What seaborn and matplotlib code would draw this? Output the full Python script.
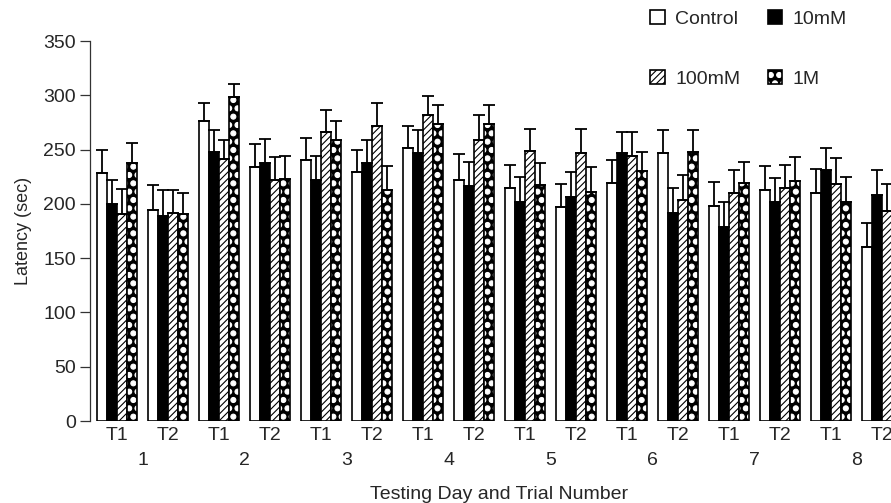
import numpy as np
import pandas as pd
import matplotlib
matplotlib.use("Agg")
import matplotlib.pyplot as plt
import matplotlib.hatch as mhatch
import seaborn as sns
from matplotlib.patches import Patch

# ---------------- data ----------------
series = ["Control", "10mM", "100mM", "1M"]
days = ["1", "2", "3", "4", "5", "6", "7", "8"]
trials = ["T1", "T2"] * 8
conditions = [f"{d}-{t}" for d in days for t in ["T1", "T2"]]

control_mean = [228, 194, 276, 234, 240, 229, 251, 222, 215, 197, 219, 247, 198, 213, 210, 160]
control_sem = [22, 23, 17, 21, 21, 21, 21, 24, 21, 21, 21, 21, 22, 22, 22, 22]
mm10_mean = [200, 189, 248, 238, 222, 238, 247, 216, 202, 206, 247, 192, 179, 202, 231, 208]
mm10_sem = [22, 24, 20, 22, 22, 21, 21, 23, 23, 23, 19, 23, 23, 22, 20, 23]
mm100_mean = [191, 192, 241, 222, 266, 272, 282, 259, 249, 247, 244, 204, 210, 215, 218, 193]
mm100_sem = [23, 21, 18, 21, 20, 21, 17, 23, 20, 22, 22, 23, 21, 21, 24, 25]
m1_mean = [238, 191, 298, 223, 259, 213, 274, 274, 217, 211, 230, 248, 219, 221, 202, 195]
m1_sem = [18, 19, 12, 21, 17, 22, 17, 17, 21, 23, 18, 20, 20, 22, 23, 20]

means = {"Control": control_mean, "10mM": mm10_mean, "100mM": mm100_mean, "1M": m1_mean}
sems = {"Control": control_sem, "10mM": mm10_sem, "100mM": mm100_sem, "1M": m1_sem}

df = pd.DataFrame(
    [(c, s, means[s][i]) for s in series for i, c in enumerate(conditions)],
    columns=["condition", "group", "latency"],
)

# ---------------- style ----------------
sns.set_style("ticks")
plt.rcParams["font.family"] = ["Liberation Sans", "DejaVu Sans"]
plt.rcParams["hatch.linewidth"] = 0.8
mhatch.SmallFilledCircles.size = 0.3   # bigger white dots for the 1M pattern

W, H = 891, 503
fig = plt.figure(figsize=(W / 100, H / 100), dpi=100)
ax = fig.add_axes([90 / W, (H - 421) / H, (908 - 90) / W, (421 - 41) / H])

face = {"Control": "white", "10mM": "black", "100mM": "white", "1M": "black"}
hatches = {"Control": None, "10mM": None, "100mM": "/////", "1M": ".."}

sns.barplot(
    data=df, x="condition", y="latency", hue="group",
    order=conditions, hue_order=series, palette=face,
    errorbar=None, width=0.8, gap=0, edgecolor="black",
    linewidth=1.2, saturation=1, legend=False, ax=ax,
)

for s, cont in zip(series, ax.containers):
    xc, hts = [], []
    for p in cont:
        p.set_edgecolor("black")
        p.set_linewidth(1.2)
        if hatches[s]:
            p.set_hatch(hatches[s])
        if s == "1M":
            p._hatch_color = (1, 1, 1, 1)
        xc.append(p.get_x() + p.get_width() / 2)
        hts.append(p.get_height())
    ax.errorbar(xc, hts, yerr=[np.zeros(len(hts)), sems[s]], fmt="none",
                ecolor="black", elinewidth=1.3, capsize=4.3, capthick=1.3, zorder=5)

ax.set_ylim(0, 350)
ax.set_xlim(-0.53, 15.51)
ax.set_yticks(range(0, 351, 50))
ax.tick_params(axis="y", length=7, width=0.9, pad=3, labelsize=14, color="#333333")
ax.set_xticks(range(16), trials)
ax.tick_params(axis="x", length=0, pad=4, labelsize=14)
for sp in ["top", "right", "bottom"]:
    ax.spines[sp].set_visible(False)
ax.spines["left"].set_linewidth(0.9)
ax.spines["left"].set_color("#333333")
ax.set_xlabel("")
ax.set_ylabel("Latency (sec)", fontsize=13, labelpad=8)

sec = ax.secondary_xaxis("bottom")
sec.set_xticks([2 * i + 0.5 for i in range(8)], days)
sec.tick_params(length=0, pad=22.5, labelsize=14)
sec.spines["bottom"].set_visible(False)
sec.set_xlabel("Testing Day and Trial Number", fontsize=14, labelpad=12)

# legend
handles = []
for s in ["Control", "100mM", "10mM", "1M"]:
    h = Patch(facecolor=face[s], edgecolor="black", hatch=hatches[s], linewidth=1.2, label=s)
    if s == "1M":
        h._hatch_color = (1, 1, 1, 1)
    handles.append(h)
fig.legend(handles=handles, ncol=2, loc="upper left",
           bbox_to_anchor=(650 / W, 1 - 10 / H), frameon=False,
           fontsize=14, handlelength=0.75, handleheight=0.75,
           handletextpad=0.55, columnspacing=1.4, labelspacing=2.15,
           borderpad=0, borderaxespad=0)

fig.savefig("out.png", dpi=100)
